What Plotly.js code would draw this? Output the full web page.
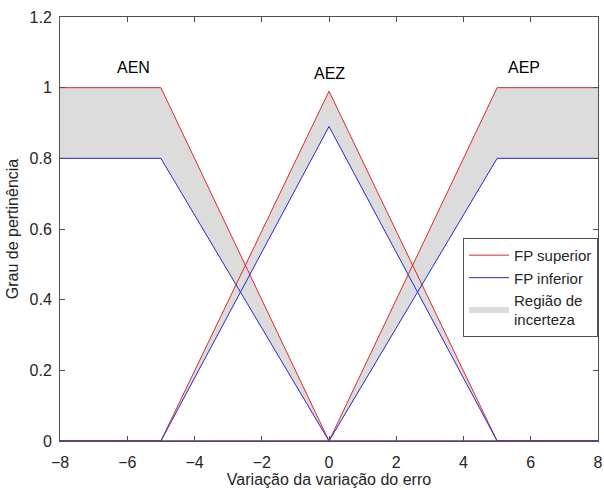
<!DOCTYPE html>
<html><head><meta charset="utf-8">
<script src="https://cdn.plot.ly/plotly-3.0.1.min.js"></script>
<style>body{margin:0;background:#fff}#c{width:604px;height:490px}</style>
</head><body><div id="c"></div>
<script>
// Membership functions (x breakpoints and upper / lower values)
const xAEN = [-8, -5, 0, 8];
const upAEN = [1, 1, 0, 0];
const loAEN = [0.8, 0.8, 0, 0];
const xAEZ = [-8, -5, 0, 5, 8];
const upAEZ = [0, 0, 0.99, 0, 0];
const loAEZ = [0, 0, 0.89, 0, 0];
const xAEP = [-8, 0, 5, 8];
const upAEP = [0, 0, 1, 1];
const loAEP = [0, 0, 0.8, 0.8];
const labels = ["AEN", "AEZ", "AEP"];
const labelX = [-5.8, 0, 5.8];
const labelY = [1.056, 1.04, 1.056];

const gray = 'rgb(220,220,220)';
const red = 'rgb(225,40,40)';
const blue = 'rgb(40,40,210)';

function band(x, up, lo, show) {
  return {x: x.concat(x.slice().reverse()), y: up.concat(lo.slice().reverse()),
    fill: 'toself', fillcolor: gray, mode: 'none', type: 'scatter',
    name: 'Região de<br>incerteza', showlegend: show, legendrank: 3, hoverinfo: 'skip'};
}
const sets = [[xAEN, upAEN, loAEN], [xAEZ, upAEZ, loAEZ], [xAEP, upAEP, loAEP]];
const traces = [];
sets.forEach((s, i) => traces.push(band(s[0], s[1], s[2], i === 0)));
sets.forEach((s, i) => {
  traces.push({x: s[0], y: s[1], mode: 'lines', line: {color: red, width: 1},
    name: 'FP superior', showlegend: i === 0, legendrank: 1});
  traces.push({x: s[0], y: s[2], mode: 'lines', line: {color: blue, width: 1},
    name: 'FP inferior', showlegend: i === 0, legendrank: 2});
});

const axisCommon = {showgrid: false, zeroline: false, showline: true, linecolor: 'rgb(80,80,80)',
  linewidth: 1, mirror: 'ticks', ticks: 'inside', ticklen: 5, tickcolor: 'rgb(80,80,80)',
  automargin: false,
  tickfont: {family: 'Liberation Sans, Arial', size: 16, color: 'rgb(38,38,38)'}};

const layout = {
  width: 604, height: 490,
  margin: {l: 60, r: 6, t: 17, b: 49},
  paper_bgcolor: '#fff', plot_bgcolor: '#fff',
  font: {family: 'Liberation Sans, Arial', size: 16, color: 'rgb(38,38,38)'},
  xaxis: Object.assign({}, axisCommon, {range: [-8, 8], dtick: 2, ticklabelstandoff: 7,
    title: {text: 'Variação da variação do erro', standoff: 3, font: {size: 16}}}),
  yaxis: Object.assign({}, axisCommon, {range: [0, 1.2], dtick: 0.2, tickformat: '~g', ticklabelstandoff: 4,
    title: {text: 'Grau de pertinência', standoff: 6, font: {size: 16}}}),
  legend: {x: 1, xanchor: 'right', y: 0.479, yanchor: 'top', bordercolor: 'rgb(80,80,80)',
    borderwidth: 1, bgcolor: '#fff', font: {size: 15}, tracegroupgap: 0, itemwidth: 40},
  annotations: labels.map((t, i) => ({x: labelX[i], y: labelY[i], text: t, showarrow: false,
    font: {size: 16, color: '#000'}})),
  showlegend: true
};
Plotly.newPlot('c', traces, layout, {displayModeBar: false});
</script></body></html>
